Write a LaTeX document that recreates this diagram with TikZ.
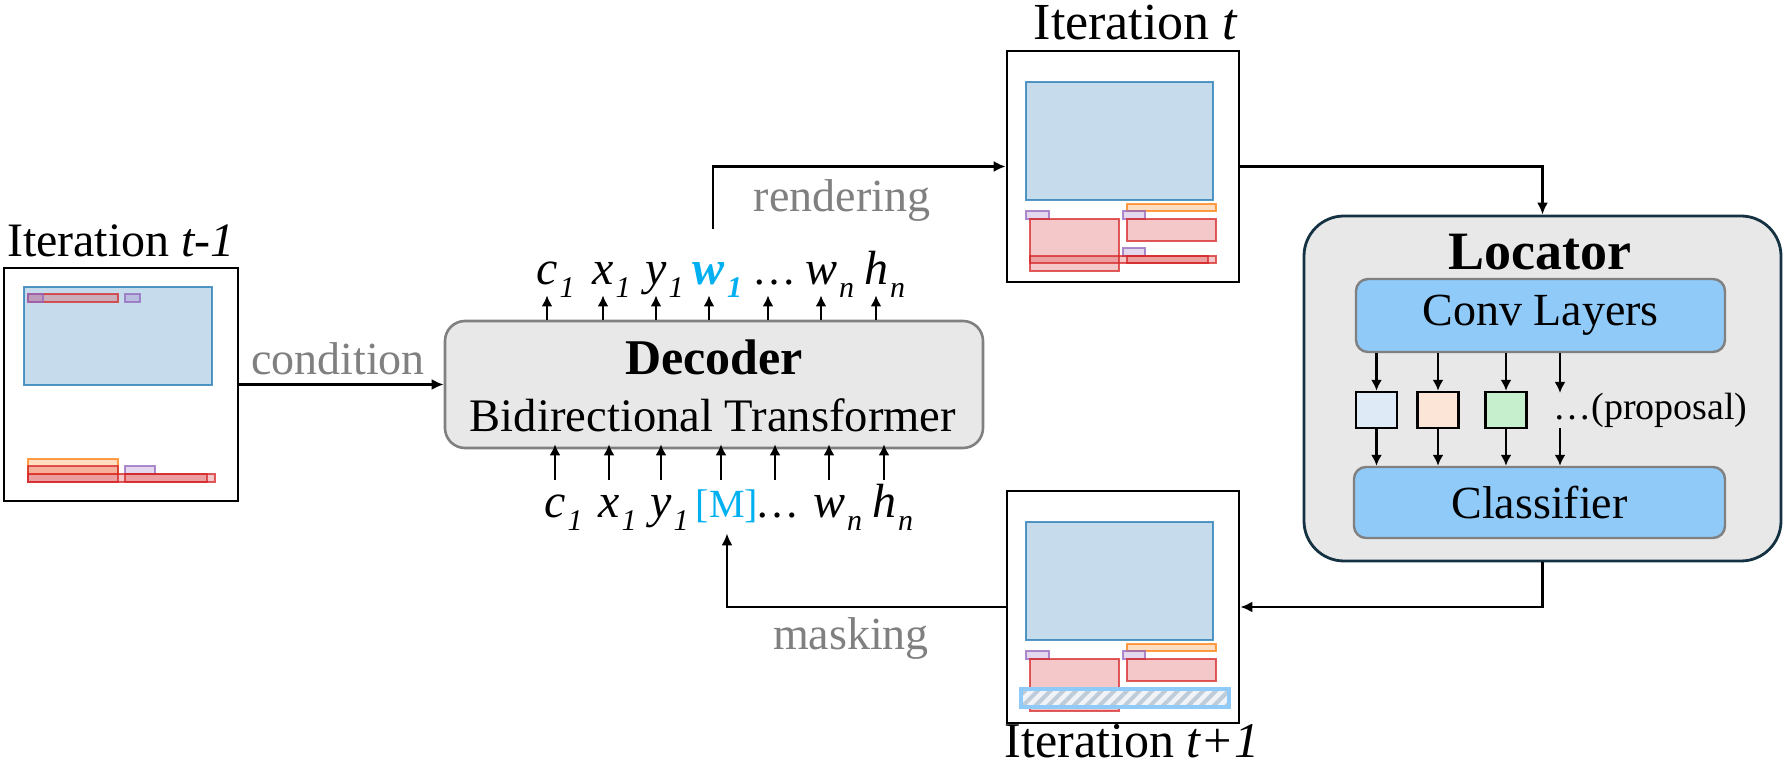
\documentclass[tikz,border=0pt]{standalone}
\usepackage{fontspec}
\setmainfont{Liberation Serif}
\usetikzlibrary{arrows.meta,patterns.meta}
\definecolor{tabblue}{RGB}{31,119,180}
\definecolor{tabred}{RGB}{214,39,40}
\definecolor{taborange}{RGB}{255,127,14}
\definecolor{tabpurple}{RGB}{148,103,189}
\definecolor{lblgray}{RGB}{128,128,128}
\definecolor{boxgray}{RGB}{232,232,232}
\definecolor{edgegray}{RGB}{128,128,128}
\definecolor{convblue}{RGB}{144,202,249}
\definecolor{mblue}{RGB}{0,176,240}
\definecolor{locedge}{RGB}{20,50,66}
\definecolor{sqblue}{RGB}{222,235,247}
\definecolor{sqpeach}{RGB}{252,228,214}
\definecolor{sqgreen}{RGB}{198,239,206}
\definecolor{stripe}{RGB}{190,204,218}
\definecolor{stripebg}{RGB}{240,243,247}
\newcommand{\tsub}[1]{\rlap{\kern1pt\raisebox{-0.26em}{\fontsize{15pt}{17pt}\selectfont #1}}}
\tikzset{
  lb/.style={fill=tabblue,fill opacity=0.25,draw=tabblue,draw opacity=0.75,line width=0.6pt},
  lr/.style={fill=tabred,fill opacity=0.25,draw=tabred,draw opacity=0.75,line width=0.6pt},
  lo/.style={fill=taborange,fill opacity=0.25,draw=taborange,draw opacity=0.75,line width=0.6pt},
  lp/.style={fill=tabpurple,fill opacity=0.25,draw=tabpurple,draw opacity=0.75,line width=0.6pt},
  frame/.style={draw=black,line width=1.3pt,fill=white,inner sep=0pt},
  arr/.style={-{Latex[length=6pt,width=5.5pt]},line width=1.2pt},
  tarr/.style={-{Latex[length=5.5pt,width=5.5pt]},line width=1.1pt},
  tok/.style={font=\fontsize{24pt}{29pt}\selectfont\itshape,inner sep=0pt,text height=19pt,text depth=5pt,anchor=base},
  title/.style={font=\fontsize{24pt}{29pt}\selectfont,anchor=base},
  lbl/.style={font=\fontsize{23pt}{28pt}\selectfont,text=lblgray,anchor=base},
  sq/.style={draw=black,line width=1.2pt,minimum width=20.5pt,minimum height=18pt,inner sep=0pt},
  bluebox/.style={draw=edgegray,line width=1.2pt,fill=convblue,rounded corners=6pt,inner sep=0pt,font=\fontsize{23pt}{28pt}\selectfont},
}
\begin{document}
\begin{tikzpicture}[x=0.5pt,y=-0.5pt]
\useasboundingbox (0,0) rectangle (1789,774);
\fill[white] (0,0) rectangle (1789,774);

% ---------- Iteration t-1 ----------
\node[frame,minimum width=117pt,minimum height=116.5pt] (it1) at (121,384.5) {};
\draw[lb] (24,287) rectangle (212,385);
\draw[lr] (28,294) rectangle (118,302);
\draw[lp] (28,294) rectangle (43,302);
\draw[lp] (125,294) rectangle (140,302);
\draw[lo] (28,459) rectangle (118,474);
\draw[lr] (28,466) rectangle (118,482);
\draw[lp] (125,466) rectangle (155,474);
\draw[lr] (28,474) rectangle (215,482);
\draw[lr] (125,474) rectangle (207,482);
\node[title] (tt1) at (121,257) {Iteration \textit{t-1}};

% ---------- Iteration t ----------
\node[frame,minimum width=116pt,minimum height=115.5pt] (itt) at (1123,166.5) {};
\draw[lb] (1026,82) rectangle (1213,200);
\draw[lo] (1127,204) rectangle (1216,211);
\draw[lp] (1026,211) rectangle (1049,219);
\draw[lp] (1123,211) rectangle (1145,219);
\draw[lr] (1030,219) rectangle (1119,271);
\draw[lr] (1127,219) rectangle (1216,241);
\draw[lp] (1123,248) rectangle (1145,256);
\draw[lr] (1030,256) rectangle (1216,263);
\draw[lr] (1127,256) rectangle (1208,263);
\node[title,font=\fontsize{26pt}{31pt}\selectfont] (ttt) at (1136,40) {Iteration \textit{t}};

% ---------- Iteration t+1 ----------
\node[frame,minimum width=116pt,minimum height=116pt] (itn) at (1123,607) {};
\draw[lb] (1026,522) rectangle (1213,640);
\draw[lo] (1127,644) rectangle (1216,651);
\draw[lp] (1026,651) rectangle (1049,659);
\draw[lp] (1123,651) rectangle (1145,659);
\draw[lr] (1030,659) rectangle (1119,711);
\draw[lr] (1127,659) rectangle (1216,681);
\fill[stripebg] (1021,689) rectangle (1229,707);
\fill[pattern={Lines[angle=45,distance=4.5pt,line width=2pt]},pattern color=stripe] (1021,689) rectangle (1229,707);
\draw[convblue,line width=2pt] (1021,689) rectangle (1229,707);
\node[title,font=\fontsize{25pt}{30pt}\selectfont] (ttn) at (1132,757) {Iteration \textit{t+1}};

% ---------- Decoder ----------
\node[draw=edgegray,line width=1.3pt,fill=boxgray,rounded corners=10pt,minimum width=269pt,minimum height=63.5pt,inner sep=0pt] (dec) at (714,384.5) {};
\node[anchor=base,font=\fontsize{25pt}{30pt}\selectfont\bfseries] (dect) at (714,375) {Decoder};
\node[anchor=base,font=\fontsize{23.3pt}{28pt}\selectfont] (decs) at (713,432) {Bidirectional Transformer};

% top tokens
\node[tok] (t1) at (547,285) {c\tsub{1}};
\node[tok] (t2) at (603,285) {x\tsub{1}};
\node[tok] (t3) at (656,285) {y\tsub{1}};
\node[tok,text=mblue,font=\fontsize{24pt}{29pt}\selectfont\bfseries\itshape] (t4) at (709,285) {w\tsub{1}};
\node[tok,font=\fontsize{22pt}{27pt}\selectfont\upshape] (t5) at (774,285) {\ldots};
\node[tok] (t6) at (821,285) {w\tsub{n}};
\node[tok] (t7) at (876,285) {h\tsub{n}};
\foreach \n in {t1,t2,t3,t4,t6,t7}{
  \draw[tarr] (dec.north -| \n) -- (\n.south);
}
\coordinate (t5s) at ([xshift=-3pt]t5.south);
\draw[tarr] (dec.north -| t5s) -- (t5s);

% bottom tokens
\node[tok] (b1) at (555,518) {c\tsub{1}};
\node[tok] (b2) at (609,518) {x\tsub{1}};
\node[tok] (b3) at (661,518) {y\tsub{1}};
\node[tok,text=mblue,font=\fontsize{20pt}{24pt}\selectfont\upshape] (b4) at (727,518) {[M]};
\node[tok,font=\fontsize{22pt}{27pt}\selectfont\upshape] (b5) at (777,518) {\ldots};
\node[tok] (b6) at (829,518) {w\tsub{n}};
\node[tok] (b7) at (884,518) {h\tsub{n}};
\foreach \n in {b1,b2,b3,b6,b7}{
  \draw[tarr,shorten >=-2.5pt] (\n.north) -- (\n |- dec.south);
}
\coordinate (b4n) at ([xshift=-3pt]b4.north);
\coordinate (b5n) at ([xshift=-1pt]b5.north);
\draw[tarr,shorten >=-2.5pt] (b4n) -- (b4n |- dec.south);
\draw[tarr,shorten >=-2.5pt] (b5n) -- (b5n |- dec.south);

% ---------- Locator ----------
\node[draw=locedge,line width=1.4pt,fill=boxgray,rounded corners=20pt,minimum width=238.5pt,minimum height=172.5pt,inner sep=0pt] (loc) at (1542.5,388.5) {};
\node[anchor=base,font=\fontsize{27pt}{32pt}\selectfont\bfseries] (loct) at (1540,270) {Locator};
\node[bluebox,minimum width=184.5pt,minimum height=36.5pt] (conv) at (1540.5,315.5) {Conv Layers};
\node[bluebox,minimum width=185.5pt,minimum height=35.5pt] (cls) at (1539.5,502.5) {Classifier};
\node[sq,fill=sqblue] (s1) at (1376.5,410) {};
\node[sq,fill=sqpeach] (s2) at (1438,410) {};
\node[sq,fill=sqgreen] (s3) at (1506,410) {};
\coordinate (d1) at (1560,393);
\coordinate (d2) at (1560,428);
\node[anchor=base west,font=\fontsize{19pt}{23pt}\selectfont,inner sep=0pt] (prop) at (1553,420) {…(proposal)};
\foreach \s in {s1,s2,s3}{
  \draw[tarr] (conv.south -| \s) -- (\s.north);
  \draw[tarr] (\s.south) -- (\s |- cls.north);
}
\draw[tarr] (conv.south -| d1) -- (d1);
\draw[tarr] (d2) -- (d2 |- cls.north);

% ---------- connectors ----------
\draw[arr] (it1.east) -- (dec.west);
\node[lbl] (lcond) at (338,375) {condition};
\coordinate (rs) at ([xshift=2pt,yshift=9pt]t4.north);
\draw[arr] (rs) |- (itt.west);
\node[lbl] (lrend) at (842,212) {rendering};
\draw[arr] (itt.east) -| (loc.north);
\draw[arr] (loc.south) |- (itn.east);
\draw[arr,shorten >=2.5pt] (itn.west) -| (b4.south);
\node[lbl] (lmask) at (851,650) {masking};
\end{tikzpicture}
\end{document}
